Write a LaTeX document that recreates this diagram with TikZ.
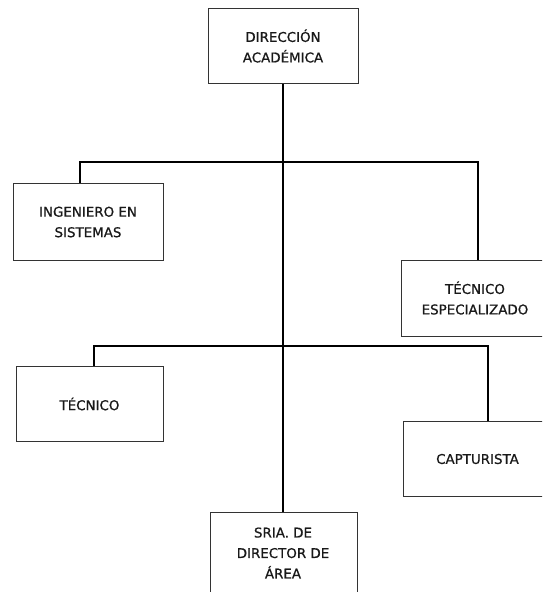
\documentclass[tikz,border=0pt]{standalone}
\usepackage{fontspec}
\setmainfont[FakeBold=0.8]{DejaVu Sans}
\begin{document}
\begin{tikzpicture}[x=1pt,y=-1pt,
  box/.style={draw=black!80,line width=0.9pt,fill=white,minimum width=#1,align=center,inner sep=0pt},
  lbl/.style={font=\fontsize{13.4}{20.5}\selectfont,align=center,text=black!90},
  conn/.style={line width=2.2pt,black}]
\useasboundingbox (0,0) rectangle (542,592);
\clip (0,0) rectangle (542,592);
% connectors
\coordinate (b1l) at (80,162);
\coordinate (b1r) at (478,162);
\coordinate (b2l) at (94,346);
\coordinate (b2r) at (488,346);
\coordinate (top) at (283,83);
\coordinate (bot) at (283,512);
\draw[conn] (top) -- (bot);
\draw[conn] (b1l |- 0,183) -- (b1l) -- (b1r) -- (b1r |- 0,260);
\draw[conn] (b2l |- 0,366) -- (b2l) -- (b2r) -- (b2r |- 0,421);
% boxes
\draw[box] (208,8) rectangle (358,83);
\node[lbl] (dir) at (283,46) {DIRECCIÓN\\ACADÉMICA};
\draw[box] (13,183) rectangle (163,260);
\node[lbl] (ing) at (88,222) {INGENIERO EN\\SISTEMAS};
\draw[box] (401,260) rectangle (549,336);
\node[lbl] (tesp) at (475,298) {TÉCNICO\\ESPECIALIZADO};
\draw[box] (16,366) rectangle (163,441);
\node[lbl] (tec) at (89.5,404) {TÉCNICO};
\draw[box] (403,421) rectangle (552,496);
\node[lbl] (cap) at (477.5,459) {CAPTURISTA};
\draw[box] (210,512) rectangle (357,600);
\node[lbl] (sria) at (283,553) {SRIA. DE\\DIRECTOR DE\\ÁREA};
\end{tikzpicture}
\end{document}
